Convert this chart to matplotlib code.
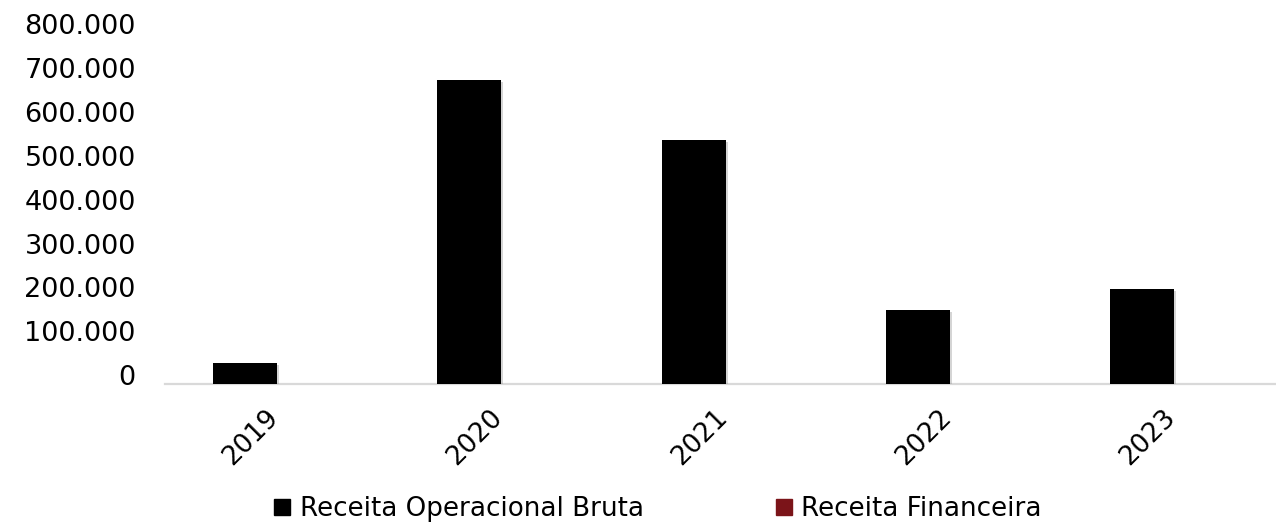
import numpy as np, matplotlib.pyplot as plt
import matplotlib.transforms as mtransforms
import matplotlib.patheffects as pe
from matplotlib.lines import Line2D

years = ["2019", "2020", "2021", "2022", "2023"]
receita_bruta = [48600, 693000, 557000, 169000, 216000]
receita_financeira = [0, 0, 0, 0, 0]
yticks = [0, 100000, 200000, 300000, 400000, 500000, 600000, 700000, 800000]
ytick_labels = ["0", "100.000", "200.000", "300.000", "400.000",
                "500.000", "600.000", "700.000", "800.000"]

BLACK, RED, AXIS = "#000000", "#7B1419", "#D9D9D9"
FONT = "DejaVu Sans"

W, H = 1276, 523
fig = plt.figure(figsize=(W/100, H/100), dpi=100)
# plot area in pixels: left 165, zero line at y=384, top (800k) at y=33.4, slot 224.4 px
ax = fig.add_axes([165/W, (H-384)/H, 5*224.4/W, (384-33.4)/H])

x = np.arange(len(years))
bw = 64/224.4
shadow = [pe.SimplePatchShadow(offset=(1.5, -1.5), shadow_rgbFace="#888888", alpha=0.35), pe.Normal()]
ax.bar(x - bw/2 - 0.002, receita_bruta, width=bw, color=BLACK, zorder=3, path_effects=shadow)
ax.bar(x + bw/2 + 0.002, receita_financeira, width=bw, color=RED, zorder=3)

ax.set_xlim(-0.5, 4.5)
ax.set_ylim(0, 800000)
for s in ["top", "right", "left"]:
    ax.spines[s].set_visible(False)
ax.spines["bottom"].set_color(AXIS)
ax.spines["bottom"].set_linewidth(1.6)

ax.set_yticks(yticks)
ax.set_yticklabels(ytick_labels, fontsize=19.5, family=FONT, color="#000000")
ax.tick_params(axis="y", length=0, pad=21)
off = mtransforms.ScaledTranslation(0, 9/100, fig.dpi_scale_trans)
for lab in ax.get_yticklabels():
    lab.set_transform(lab.get_transform() + off)

ax.set_xticks(x)
ax.set_xticklabels(years, fontsize=19, family=FONT, rotation=45, ha="right",
                   rotation_mode="anchor", color="#000000")
ax.tick_params(axis="x", length=0, pad=17)
offx = mtransforms.ScaledTranslation(-12/100, 3/100, fig.dpi_scale_trans)
for lab in ax.get_xticklabels():
    lab.set_transform(lab.get_transform() + offx)

handles = [Line2D([], [], marker="s", ls="", color=BLACK, markersize=11),
           Line2D([], [], marker="s", ls="", color=RED, markersize=11)]
fig.legend(handles, ["Receita Operacional Bruta", "Receita Financeira"],
           loc="center", bbox_to_anchor=(658/W, 1 - 509/H), ncol=2, frameon=False,
           prop={"family": FONT, "size": 18.8}, handlelength=0.6, handletextpad=0.38,
           columnspacing=5.05, borderpad=0)

fig.savefig("out.png", dpi=100, facecolor="white")
